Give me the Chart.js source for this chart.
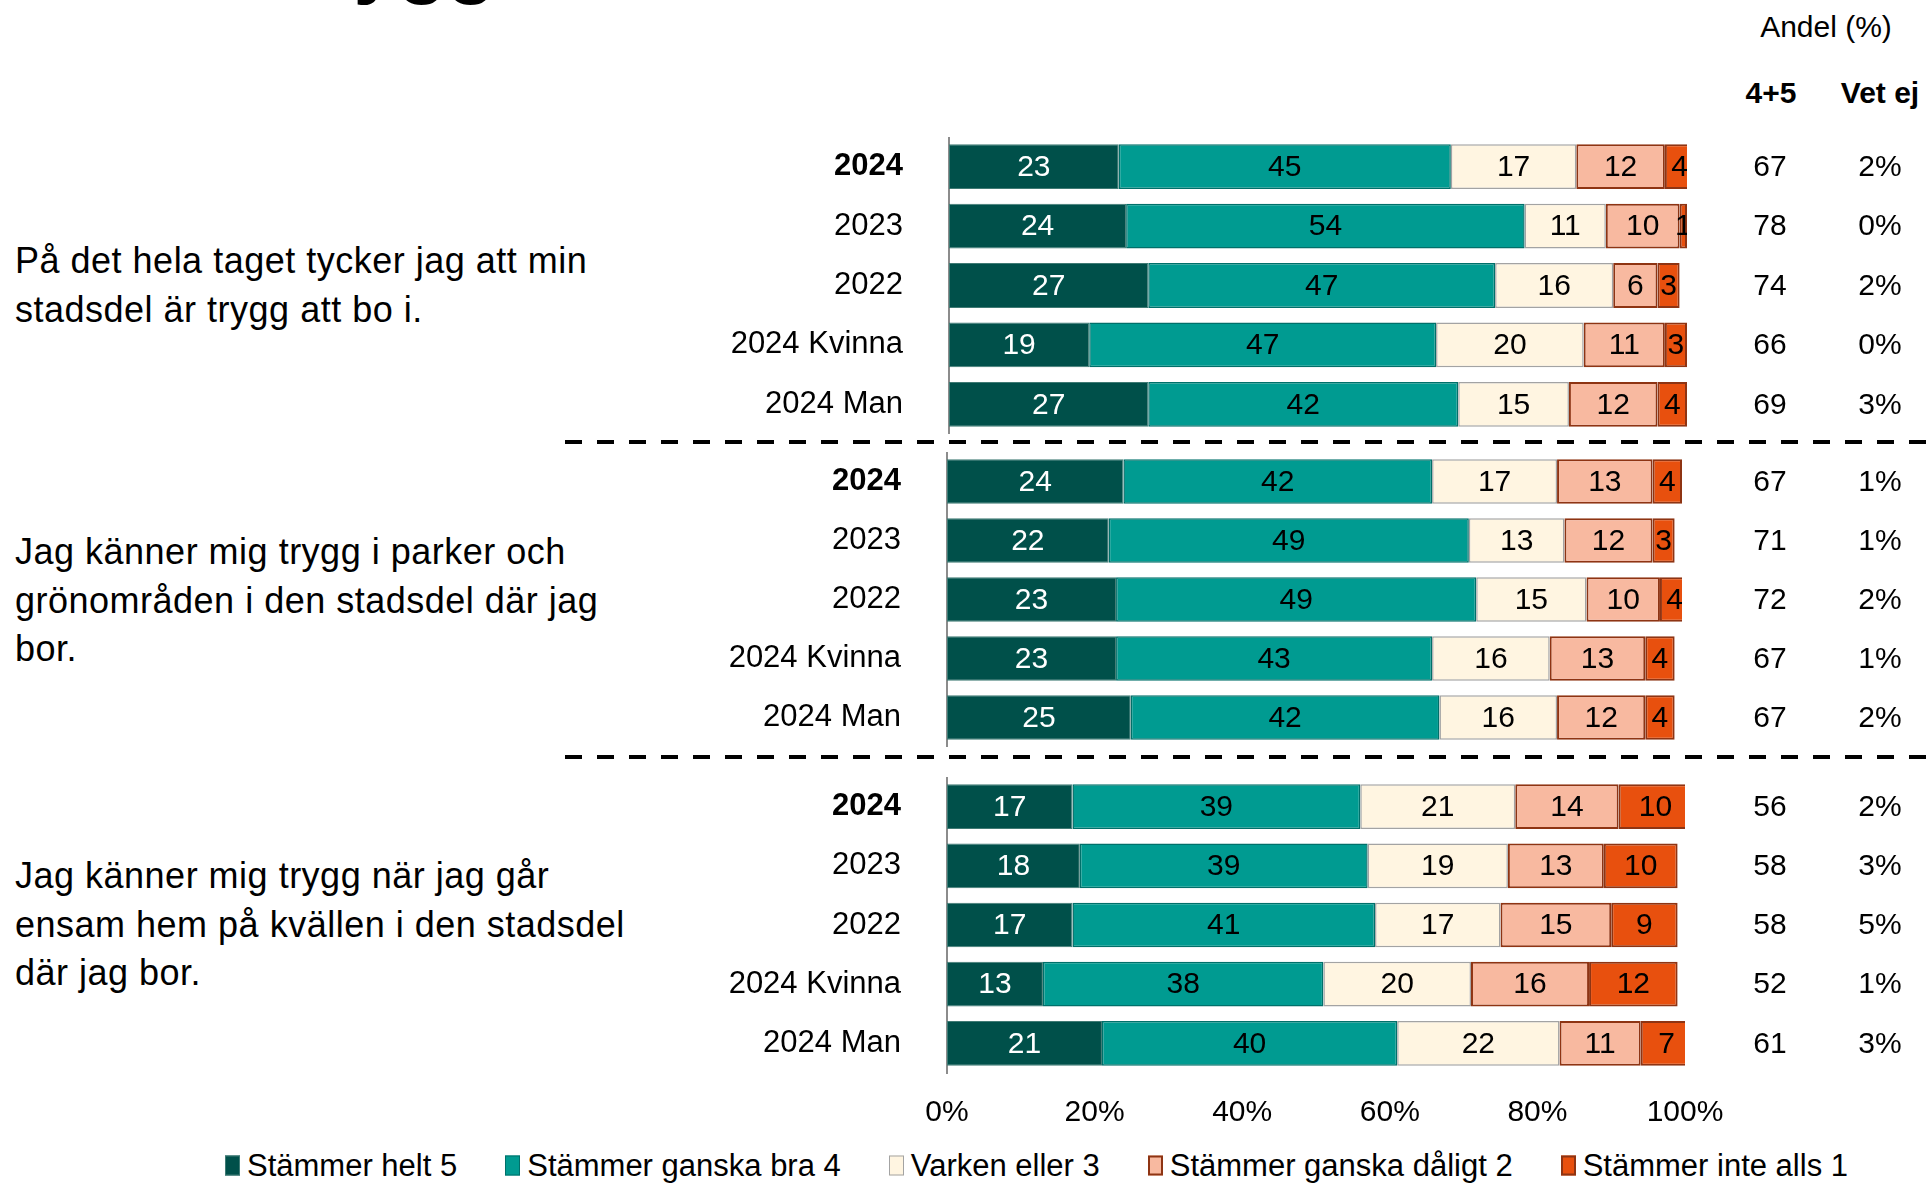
<!DOCTYPE html>
<html lang="sv">
<head>
<meta charset="utf-8">
<title>Trygghet i stadsdelen</title>
<script src="https://cdn.jsdelivr.net/npm/chart.js@4.4.1/dist/chart.umd.min.js"></script>
<style>
  html, body { margin: 0; padding: 0; background: #fff; }
  body { width: 1926px; height: 1183px; overflow: hidden; position: relative;
         font-family: "Liberation Sans", Arial, sans-serif; color: #000; }
  .abs { position: absolute; white-space: nowrap; }
  .mid { transform: translate(-50%, -50%); line-height: 1; }
  .q { position: absolute; left: 15px; font-size: 36px; line-height: 48.5px; white-space: nowrap; letter-spacing: 0.5px; }
  .chartbox { position: absolute; }
  #title { left: 278px; top: -79px; font-size: 80px; font-weight: bold; line-height: 80px; }
  #legend { position: absolute; left: 225px; top: 1165px; transform: translateY(-50%);
            display: flex; align-items: center; font-size: 31px; line-height: 1; white-space: nowrap; }
  #legend .item { display: flex; align-items: center; margin-right: 48px; }
  #legend .item:last-child { margin-right: 0; }
  #legend .swatch { width: 15px; height: 20px; box-sizing: border-box; margin-right: 7px; }
</style>
</head>
<body>

<div id="title" class="abs">Trygghet</div>

<div class="abs mid" style="left:1826px; top:27px; font-size:30px;">Andel (%)</div>
<div class="abs mid" style="left:1771px; top:93px; font-size:30px; font-weight:bold;">4+5</div>
<div class="abs mid" style="left:1880px; top:93px; font-size:30px; font-weight:bold;">Vet ej</div>

<div class="q" style="top:237px;">På det hela taget tycker jag att min<br>stadsdel är trygg att bo i.</div>
<div class="q" style="top:528px;">Jag känner mig trygg i parker och<br>grönområden i den stadsdel där jag<br>bor.</div>
<div class="q" style="top:852px;">Jag känner mig trygg när jag går<br>ensam hem på kvällen i den stadsdel<br>där jag bor.</div>

<svg class="abs" style="left:0; top:0;" width="1926" height="1183">
  <line x1="565" y1="442" x2="1926" y2="442" stroke="#000" stroke-width="4" stroke-dasharray="17 15"/>
  <line x1="565" y1="757" x2="1926" y2="757" stroke="#000" stroke-width="4" stroke-dasharray="17 15"/>
</svg>

<div class="chartbox" id="b1"><canvas id="c1"></canvas></div>
<div class="chartbox" id="b2"><canvas id="c2"></canvas></div>
<div class="chartbox" id="b3"><canvas id="c3"></canvas></div>

<div id="legend"></div>

<script>
// ---- Data -------------------------------------------------------------
const categories = ['2024', '2023', '2022', '2024 Kvinna', '2024 Man'];
const seriesNames = ['Stämmer helt 5', 'Stämmer ganska bra 4', 'Varken eller 3',
                     'Stämmer ganska dåligt 2', 'Stämmer inte alls 1'];
const xTickValues = [0, 20, 40, 60, 80, 100];

// "På det hela taget tycker jag att min stadsdel är trygg att bo i."
const boHelt          = [23, 24, 27, 19, 27];
const boGanskaBra     = [45, 54, 47, 47, 42];
const boVarken        = [17, 11, 16, 20, 15];
const boGanskaDaligt  = [12, 10,  6, 11, 12];
const boInteAlls      = [ 4,  1,  3,  3,  4];
const boAndel45       = [67, 78, 74, 66, 69];
const boVetEj         = [ 2,  0,  2,  0,  3];

// "Jag känner mig trygg i parker och grönområden i den stadsdel där jag bor."
const parkHelt        = [24, 22, 23, 23, 25];
const parkGanskaBra   = [42, 49, 49, 43, 42];
const parkVarken      = [17, 13, 15, 16, 16];
const parkGanskaDaligt= [13, 12, 10, 13, 12];
const parkInteAlls    = [ 4,  3,  4,  4,  4];
const parkAndel45     = [67, 71, 72, 67, 67];
const parkVetEj       = [ 1,  1,  2,  1,  2];

// "Jag känner mig trygg när jag går ensam hem på kvällen i den stadsdel där jag bor."
const kvallHelt         = [17, 18, 17, 13, 21];
const kvallGanskaBra    = [39, 39, 41, 38, 40];
const kvallVarken       = [21, 19, 17, 20, 22];
const kvallGanskaDaligt = [14, 13, 15, 16, 11];
const kvallInteAlls     = [10, 10,  9, 12,  7];
const kvallAndel45      = [56, 58, 58, 52, 61];
const kvallVetEj        = [ 2,  3,  5,  1,  3];

// ---- Styling ----------------------------------------------------------
const FONT = '"Liberation Sans", Arial, sans-serif';
const fills      = ['#00504a', '#009b91', '#fff5e1', '#f8b9a0', '#e8500e'];
const edges      = ['#3f7a74', '#00706a', '#a3a3a3', '#8e3413', '#8e3413'];
const edgeWidths = [1, 1.5, 1.5, 2, 2];
const textColors = ['#ffffff', '#000000', '#000000', '#000000', '#000000'];

// Legend row below the last chart, one entry per answer option.
const legendEl = document.getElementById('legend');
seriesNames.forEach((name, k) => {
  const item = document.createElement('div');
  item.className = 'item';
  const sw = document.createElement('span');
  sw.className = 'swatch';
  sw.style.background = fills[k];
  sw.style.border = Math.max(1, edgeWidths[k]) + 'px solid ' + edges[k];
  const tx = document.createElement('span');
  tx.textContent = name;
  item.appendChild(sw);
  item.appendChild(tx);
  legendEl.appendChild(item);
});

// Draws each segment's value centred inside the segment.
const segmentValues = {
  id: 'segmentValues',
  afterDatasetsDraw(chart) {
    const { ctx, chartArea: a } = chart;
    ctx.save();
    ctx.beginPath();
    ctx.rect(a.left, a.top, a.right - a.left, a.bottom - a.top);
    ctx.clip();
    ctx.font = '30px ' + FONT;
    ctx.textAlign = 'center';
    ctx.textBaseline = 'middle';
    chart.data.datasets.forEach((ds, di) => {
      chart.getDatasetMeta(di).data.forEach((bar, i) => {
        const p = bar.getProps(['x', 'y', 'base'], true);
        ctx.fillStyle = textColors[di];
        ctx.fillText(String(ds.data[i]), (p.x + p.base) / 2, p.y + 1);
      });
    });
    ctx.restore();
  }
};

// Draws the "4+5" and "Vet ej" columns beside each bar.
const sideColumns = {
  id: 'sideColumns',
  afterDraw(chart, args, opts) {
    const { ctx } = chart;
    const y = chart.scales.y;
    ctx.save();
    ctx.font = '30px ' + FONT;
    ctx.fillStyle = '#000';
    ctx.textAlign = 'center';
    ctx.textBaseline = 'middle';
    opts.andel.forEach((v, i) => {
      const py = y.getPixelForValue(i) + 1;
      ctx.fillText(String(v), opts.andelX - opts.canvasLeft, py);
      ctx.fillText(opts.vetEj[i] + '%', opts.vetEjX - opts.canvasLeft, py);
    });
    ctx.restore();
  }
};

function buildChart(id, box, seriesValues, andel, vetEj, withAxis) {
  const holder = document.getElementById('b' + id);
  holder.style.left = box.left + 'px';
  holder.style.top = box.top + 'px';
  holder.style.width = box.width + 'px';
  holder.style.height = box.height + 'px';

  const datasets = seriesNames.map((name, k) => ({
    label: name,
    data: seriesValues[k],
    backgroundColor: fills[k],
    borderColor: edges[k],
    borderWidth: edgeWidths[k],
    borderSkipped: false,
    barPercentage: 1,
    categoryPercentage: 0.755
  }));

  const noVerticalPadding = (s) => { s.paddingTop = 0; s.paddingBottom = 0; };

  return new Chart(document.getElementById('c' + id), {
    type: 'bar',
    data: { labels: categories, datasets },
    plugins: [segmentValues, sideColumns],
    options: {
      indexAxis: 'y',
      responsive: true,
      maintainAspectRatio: false,
      animation: false,
      devicePixelRatio: 1,
      layout: { padding: 0 },
      scales: {
        x: {
          stacked: true,
          min: 0,
          max: 100,
          display: withAxis,
          grid: { display: false, drawTicks: false },
          border: { display: false },
          afterBuildTicks: (s) => { s.ticks = xTickValues.map(v => ({ value: v })); },
          afterFit: (s) => { s.height = withAxis ? box.axisHeight : 0; s.paddingLeft = 0; s.paddingRight = 0; },
          ticks: {
            autoSkip: false,
            padding: 22,
            color: '#000',
            font: { family: FONT, size: 30 },
            callback: (v) => v + '%'
          }
        },
        y: {
          stacked: true,
          grid: { display: false, drawTicks: false },
          border: { display: true, color: '#8c8c8c', width: 2 },
          afterFit: (s) => { s.width = box.plotLeft - box.left; noVerticalPadding(s); },
          ticks: {
            autoSkip: false,
            padding: 46,
            color: '#000',
            font: (c) => ({ family: FONT, size: 31, weight: c.index === 0 ? 'bold' : 'normal' })
          }
        },
        // Right-hand gutter that holds the "4+5" and "Vet ej" columns.
        yRight: {
          type: 'category',
          position: 'right',
          grid: { display: false, drawTicks: false },
          border: { display: false },
          ticks: { display: false },
          afterFit: (s) => { s.width = box.left + box.width - box.plotRight; noVerticalPadding(s); }
        }
      },
      plugins: {
        tooltip: { enabled: false },
        legend: { display: false },
        sideColumns: { andel, vetEj, andelX: 1770, vetEjX: 1880, canvasLeft: box.left }
      }
    }
  });
}

buildChart(1, { left: 150, top: 137, width: 1776, height: 297, plotLeft: 949, plotRight: 1687 },
  [boHelt, boGanskaBra, boVarken, boGanskaDaligt, boInteAlls], boAndel45, boVetEj, false);

buildChart(2, { left: 150, top: 452, width: 1776, height: 295, plotLeft: 947, plotRight: 1682 },
  [parkHelt, parkGanskaBra, parkVarken, parkGanskaDaligt, parkInteAlls], parkAndel45, parkVetEj, false);

buildChart(3, { left: 150, top: 777, width: 1776, height: 366, plotLeft: 947, plotRight: 1685, axisHeight: 70 },
  [kvallHelt, kvallGanskaBra, kvallVarken, kvallGanskaDaligt, kvallInteAlls], kvallAndel45, kvallVetEj, true);
</script>
</body>
</html>
